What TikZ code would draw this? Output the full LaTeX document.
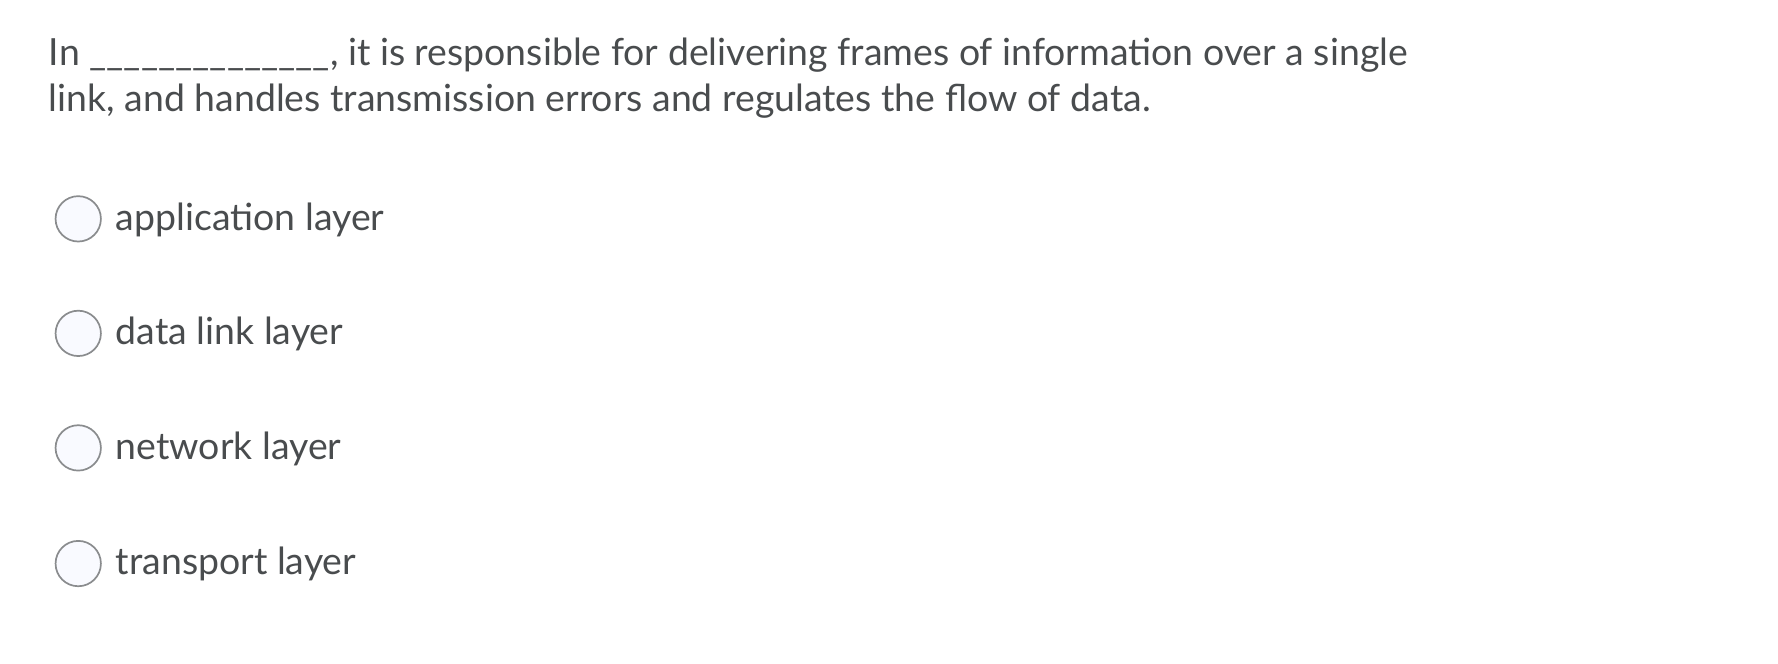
\documentclass[tikz,border=0pt]{standalone}
\usepackage{fontspec}
\setmainfont{Lato}
\definecolor{txt}{HTML}{494C4E}
\definecolor{rfill}{HTML}{F9FAFF}
\definecolor{rline}{HTML}{8A8C8E}
\begin{document}
\begin{tikzpicture}[x=1pt,y=-1pt,
  q/.style={anchor=base west,inner sep=0pt,text=txt,font=\fontsize{33}{40}\selectfont},
  radio/.style={circle,draw=rline,fill=rfill,line width=1.5pt,minimum size=40pt,inner sep=0pt}]
\useasboundingbox (0,0) rectangle (1568,585);
\node[q] (l1) at (43,58) {In \_\_\_\_\_\_\_\_\_\_\_\_\_\_, it is responsible for delivering frames of information over a single};
\node[q] (l2) at (43,98) {link, and handles transmission errors and regulates the flow of data.};
\foreach \y/\t/\n in {193/application layer/a,294/data link layer/b,395/network layer/c,497/transport layer/d}{
  \node[radio] (r\n) at (69,\y) {};
  \node[q] (t\n) at (102,\y+10) {\t};
}
\end{tikzpicture}
\end{document}
